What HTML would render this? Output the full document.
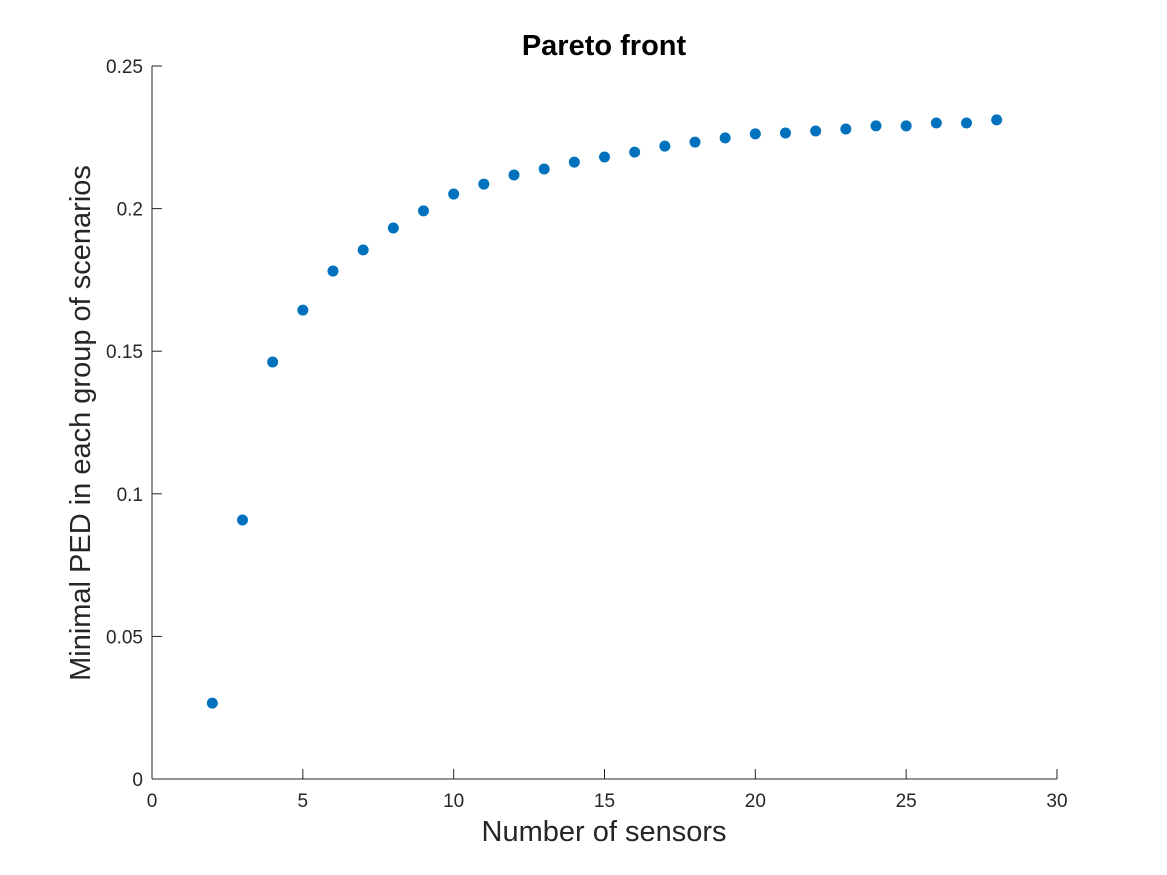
<!DOCTYPE html>
<html><head><meta charset="utf-8"><style>
body{margin:0;background:#fff;}
svg{display:block;font-family:"Liberation Sans",Arial,sans-serif;}
</style></head><body>
<svg id="chart" width="1167" height="875">
<rect width="1167" height="875" fill="#fff"/>
<text x="604" y="55" text-anchor="middle" font-size="29" font-weight="bold" fill="#000">Pareto front</text>
<g id="axes"></g>
<g id="points"></g>
<text x="604" y="841" text-anchor="middle" font-size="29" fill="#262626">Number of sensors</text>
<text transform="translate(90,423) rotate(-90)" text-anchor="middle" font-size="29" fill="#262626">Minimal PED in each group of scenarios</text>
</svg>
<script>
const sensors=[2,3,4,5,6,7,8,9,10,11,12,13,14,15,16,17,18,19,20,21,22,23,24,25,26,27,28];
const ped=[0.0266,0.0908,0.1462,0.1644,0.1781,0.1855,0.1932,0.1992,0.2051,0.2086,0.2118,0.2139,0.2163,0.2181,0.2198,0.2219,0.2233,0.2248,0.2262,0.2265,0.2272,0.2279,0.2290,0.2290,0.2300,0.2300,0.2311];
const xTicks=[0,5,10,15,20,25,30];
const yTicks=[0,0.05,0.1,0.15,0.2,0.25];
const yTickLabels=["0","0.05","0.1","0.15","0.2","0.25"];
const X0=152,X1=1057,Y0=779,Y1=66;
const xs=v=>X0+(v-0)/(30-0)*(X1-X0);
const ys=v=>Y0-(v-0)/(0.25-0)*(Y0-Y1);
const NS="http://www.w3.org/2000/svg";
const ax=document.getElementById('axes'),pg=document.getElementById('points');
function mk(tag,at,parent){const e=document.createElementNS(NS,tag);for(const k in at)e.setAttribute(k,at[k]);parent.appendChild(e);return e;}
let l=mk('line',{x1:X0,y1:Y0,x2:X1,y2:Y0,stroke:'#262626','stroke-width':1},ax);


l=mk('line',{x1:X0,y1:Y0,x2:X0,y2:Y1,stroke:'#262626','stroke-width':1},ax);


xTicks.forEach(t=>{
  const x=xs(t);
  const tk=mk('line',{x1:x,y1:Y0,x2:x,y2:Y0-10,stroke:'#262626'},ax);
  
  
  const tx=mk('text',{x:x,y:Y0+28,'text-anchor':'middle','font-size':19,fill:'#262626'},ax);
  tx.textContent=t;
  
  
});
yTicks.forEach((t,i)=>{
  const y=ys(t);
  const tk=mk('line',{x1:X0,y1:y,x2:X0+10,y2:y,stroke:'#262626'},ax);
  
  
  const tx=mk('text',{x:X0-9,y:y+7,'text-anchor':'end','font-size':19,fill:'#262626'},ax);
  tx.textContent=yTickLabels[i];
  
  
});
sensors.forEach((s,i)=>{
  const c=mk('circle',{cx:xs(s),cy:ys(ped[i]),r:5.5,fill:'#0072BD'},pg);
  
  
});
</script>
</body></html>
